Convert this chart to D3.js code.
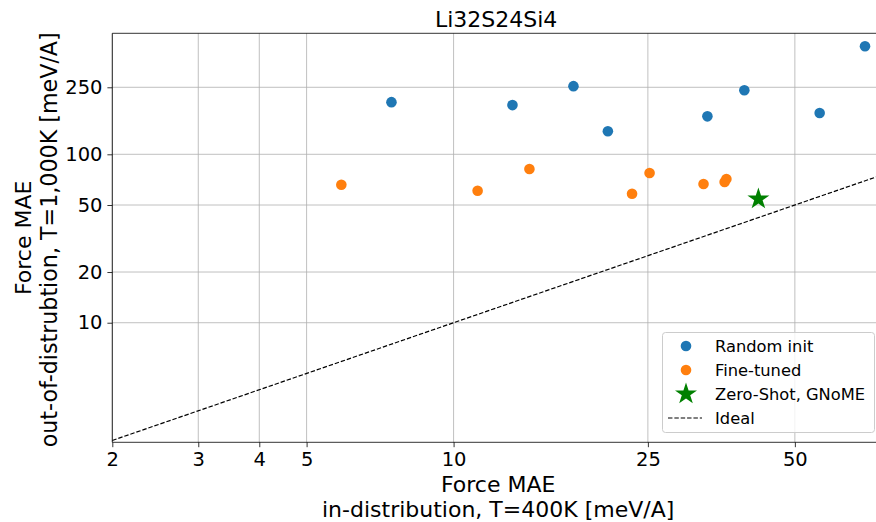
<!DOCTYPE html>
<html>
<head>
<meta charset="utf-8">
<script src="https://cdn.jsdelivr.net/npm/d3@7"></script>
<style>
  body { margin: 0; background: #fff; }
  svg { font-family: "DejaVu Sans", sans-serif; }
</style>
</head>
<body>
<svg id="mySVG" width="876" height="522"></svg>
<script>
// values (meV/A)
var randomX = [7.46, 13.2, 17.6, 20.7, 33.1, 39.4, 56.2, 69.6];
var randomY = [204, 196, 254, 137, 168, 240, 176, 438];

var tunedX = [5.89, 11.2, 14.3, 23.2, 25.2, 32.5, 35.9, 36.2];
var tunedY = [66.0, 60.8, 81.8, 58.3, 77.4, 66.6, 68.5, 71.3];

var zeroShotX = [42.1];
var zeroShotY = [54.3];

var xTicks = [2, 3, 4, 5, 10, 25, 50];
var yTicks = [10, 20, 50, 100, 250];
var legendNames = ["Random init", "Fine-tuned", "Zero-Shot, GNoME", "Ideal"];

function drawChart() {
	var left = 112.3, top = 33.3, right = 878, bottom = 442.3;
	var xMin = 2, xMax = 74;

	var svg = d3.select('#mySVG');

	var x = d3.scaleLog().domain([xMin, xMax]).range([left, right]);
	var y = d3.scaleLog().domain([1.95, 523]).range([bottom, top]);

	// grid
	svg.append('g').selectAll('line')
		.data(xTicks).enter().append('line')
		.attr('x1', function(d) { return x(d); })
		.attr('x2', function(d) { return x(d); })
		.attr('y1', top).attr('y2', bottom)
		.attr('stroke', '#b0b0b0').attr('stroke-width', 0.8);

	svg.append('g').selectAll('line')
		.data(yTicks).enter().append('line')
		.attr('y1', function(d) { return y(d); })
		.attr('y2', function(d) { return y(d); })
		.attr('x1', left).attr('x2', right)
		.attr('stroke', '#b0b0b0').attr('stroke-width', 0.8);

	// axes
	var xAxis = d3.axisBottom(x).tickValues(xTicks).tickFormat(d3.format('d'))
		.tickSize(4.9).tickPadding(4.9);
	var yAxis = d3.axisLeft(y).tickValues(yTicks).tickFormat(d3.format('d'))
		.tickSize(4.9).tickPadding(4.9);

	var gx = svg.append('g').attr('transform', 'translate(0,' + bottom + ')').call(xAxis);
	var gy = svg.append('g').attr('transform', 'translate(' + left + ',0)').call(yAxis);

	[gx, gy].forEach(function(g) {
		g.select('.domain').remove();
		g.selectAll('.tick line').attr('stroke', '#000').attr('stroke-width', 0.8);
		g.selectAll('.tick text').attr('fill', '#000')
			.style('font-family', '"DejaVu Sans", sans-serif')
			.style('font-size', '19.5px');
	});

	// spines
	svg.append('line').attr('x1', left).attr('x2', right).attr('y1', top).attr('y2', top)
		.attr('stroke', '#000').attr('stroke-width', 0.8);
	svg.append('line').attr('x1', left).attr('x2', right).attr('y1', bottom).attr('y2', bottom)
		.attr('stroke', '#000').attr('stroke-width', 0.8);
	svg.append('line').attr('x1', left).attr('x2', left).attr('y1', top).attr('y2', bottom)
		.attr('stroke', '#000').attr('stroke-width', 0.8);

	// ideal y = x
	svg.append('line')
		.attr('x1', x(xMin)).attr('y1', y(xMin))
		.attr('x2', x(xMax)).attr('y2', y(xMax))
		.attr('stroke', '#000').attr('stroke-width', 1.2)
		.attr('stroke-dasharray', '4.44,1.92');

	svg.append('g').selectAll('circle')
		.data(d3.range(randomX.length)).enter().append('circle')
		.attr('cx', function(i) { return x(randomX[i]); })
		.attr('cy', function(i) { return y(randomY[i]); })
		.attr('r', 5.3)
		.attr('fill', '#1f77b4');

	svg.append('g').selectAll('circle')
		.data(d3.range(tunedX.length)).enter().append('circle')
		.attr('cx', function(i) { return x(tunedX[i]); })
		.attr('cy', function(i) { return y(tunedY[i]); })
		.attr('r', 5.3)
		.attr('fill', '#ff7f0e');

	var star = d3.symbol().type(d3.symbolStar).size(150);
	svg.append('g').selectAll('path')
		.data(d3.range(zeroShotX.length)).enter().append('path')
		.attr('d', star)
		.attr('transform', function(i) {
			return 'translate(' + x(zeroShotX[i]) + ',' + y(zeroShotY[i]) + ')';
		})
		.attr('fill', 'green');

	// legend
	var lg = svg.append('g');
	lg.append('rect')
		.attr('x', 662.5).attr('y', 332.5).attr('width', 212).attr('height', 100)
		.attr('rx', 3).attr('fill', '#fff').attr('fill-opacity', 0.8)
		.attr('stroke', '#cccccc').attr('stroke-width', 1);

	var rowY = [346, 370, 394, 418];
	lg.append('circle').attr('cx', 686).attr('cy', rowY[0]).attr('r', 5.3).attr('fill', '#1f77b4');
	lg.append('circle').attr('cx', 686).attr('cy', rowY[1]).attr('r', 5.3).attr('fill', '#ff7f0e');
	lg.append('path').attr('d', star).attr('transform', 'translate(686,' + rowY[2] + ')').attr('fill', 'green');
	lg.append('line').attr('x1', 668).attr('x2', 702).attr('y1', rowY[3]).attr('y2', rowY[3])
		.attr('stroke', '#000').attr('stroke-width', 1.2).attr('stroke-dasharray', '4.44,1.92');

	lg.selectAll('text')
		.data(legendNames).enter().append('text')
		.attr('x', 715)
		.attr('y', function(d, i) { return rowY[i]; })
		.attr('dy', '0.36em')
		.style('font-size', '16.3px')
		.text(function(d) { return d; });

	// title and labels
	svg.append('text').attr('x', (left + 876) / 2 + 2).attr('y', 27)
		.attr('text-anchor', 'middle').style('font-size', '22px').text('Li32S24Si4');

	svg.append('text').attr('x', (left + 876) / 2 + 4).attr('y', 492)
		.attr('text-anchor', 'middle').style('font-size', '22px').text('Force MAE');
	svg.append('text').attr('x', (left + 876) / 2 + 4).attr('y', 517)
		.attr('text-anchor', 'middle').style('font-size', '22px').text('in-distribution, T=400K [meV/A]');

	var cy = (top + bottom) / 2;
	svg.append('text').attr('transform', 'translate(31,' + cy + ') rotate(-90)')
		.attr('text-anchor', 'middle').style('font-size', '22px').text('Force MAE');
	svg.append('text').attr('transform', 'translate(56.5,' + (cy + 2) + ') rotate(-90)')
		.attr('text-anchor', 'middle').style('font-size', '22.2px').text('out-of-distrubtion, T=1,000K [meV/A]');
}

drawChart();
</script>
</body>
</html>
